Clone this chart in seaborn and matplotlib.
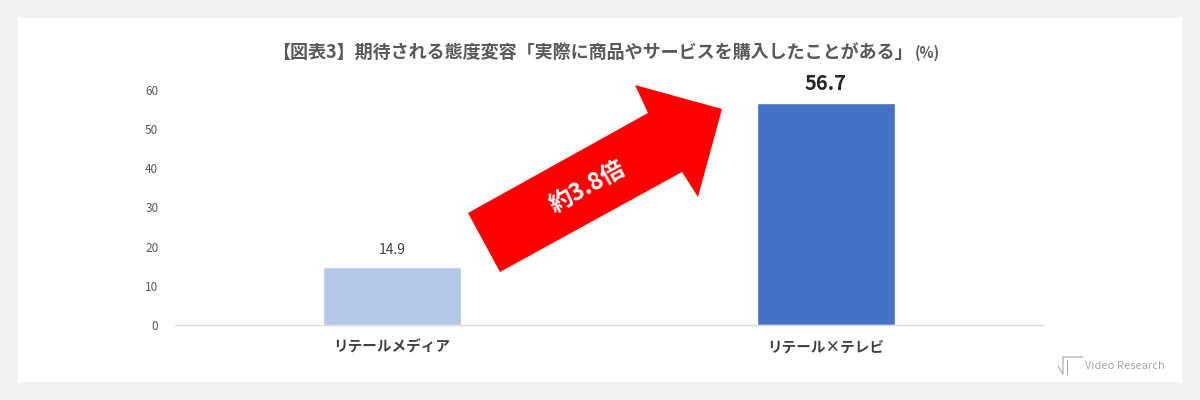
import pandas as pd
import numpy as np
import seaborn as sns
import matplotlib.pyplot as plt
from matplotlib.patches import Polygon, Rectangle
from matplotlib.lines import Line2D

categories = ['リテールメディア', 'リテール×テレビ']
values = [14.9, 56.7]
bar_colors = ['#b4c7e7', '#4472c4']
title = '【図表3】期待される態度変容「実際に商品やサービスを購入したことがある」'
unit = '(%)'
ratio_label = '約3.8倍'
yticks = [0, 10, 20, 30, 40, 50, 60]

sns.set_theme(style='white')
plt.rcParams['font.family'] = ['Noto Sans CJK JP', 'DejaVu Sans']

df = pd.DataFrame({'category': categories, 'value': values})

fig = plt.figure(figsize=(12, 4), dpi=100)
fig.patch.set_facecolor('#f2f2f2')
# white card behind the chart
fig.patches.append(Rectangle((18 / 1200, 18 / 400), 1164 / 1200, 364 / 400,
                             transform=fig.transFigure, facecolor='white',
                             edgecolor='none', zorder=-5))

ax = fig.add_axes([175 / 1200, 75 / 400, 868 / 1200, 235 / 400])
ax.set_facecolor('none')
sns.barplot(data=df, x='category', y='value', hue='category', palette=bar_colors,
            width=0.316, legend=False, ax=ax, saturation=1)

ax.set_ylim(0, 60)
ax.set_yticks(yticks)
ax.set_xlabel('')
ax.set_ylabel('')
for s in ['top', 'right', 'left']:
    ax.spines[s].set_visible(False)
ax.spines['bottom'].set_color('#d9d9d9')
ax.spines['bottom'].set_linewidth(1)
ax.tick_params(axis='y', length=0, pad=12, labelsize=8.5, labelcolor='#595959')
ax.tick_params(axis='x', length=0, pad=10, labelsize=10.5, labelcolor='#404040')
for lbl in ax.get_xticklabels():
    lbl.set_fontweight('bold')

# value labels
ax.text(0, values[0] + 2.5, f'{values[0]}', ha='center', va='bottom',
        fontsize=10, color='#404040')
ax.text(1, values[1] + 2.3, f'{values[1]}', ha='center', va='bottom',
        fontsize=14.5, fontweight='bold', color='#262626')

# red arrow between the bars
pts = [(468, 213), (648, 113), (635, 85), (722, 109), (698, 197), (682, 172), (500, 272)]
arrow = Polygon([(x / 1200, 1 - y / 400) for x, y in pts], closed=True,
                transform=fig.transFigure, facecolor='#ff0000', edgecolor='none',
                zorder=5)
fig.patches.append(arrow)
fig.text(588 / 1200, 1 - 187 / 400, ratio_label, rotation=29, ha='center', va='center',
         fontsize=17, fontweight='bold', color='white', rotation_mode='anchor', zorder=6)

# title + unit
t = fig.text(592 / 1200, 1 - 52 / 400, title, ha='center', va='center',
             fontsize=13, fontweight='bold', color='#595959')
fig.canvas.draw()
bb = t.get_window_extent(fig.canvas.get_renderer())
fig.text((bb.x1 + 2) / 1200, 1 - 53 / 400, unit, ha='left', va='center',
         fontsize=10.5, fontweight='bold', color='#595959')

# watermark
fig.text(1085 / 1200, 1 - 366 / 400, 'Video Research', ha='left', va='center',
         fontsize=8, color='#a6a6a6')
fig.lines.append(Line2D([1058 / 1200, 1063 / 1200, 1063 / 1200, 1083 / 1200],
                        [1 - 366 / 400, 1 - 374 / 400, 1 - 357 / 400, 1 - 357 / 400],
                        transform=fig.transFigure, color='#a6a6a6', linewidth=0.8))
fig.lines.append(Line2D([1067 / 1200, 1067 / 1200], [1 - 360 / 400, 1 - 374 / 400],
                        transform=fig.transFigure, color='#a6a6a6', linewidth=0.8))

plt.savefig('out.png', dpi=100, facecolor=fig.get_facecolor())
